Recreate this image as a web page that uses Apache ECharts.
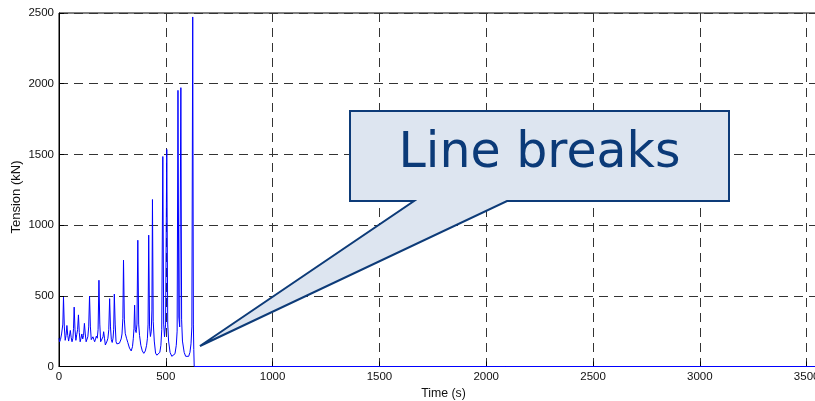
<!DOCTYPE html>
<html><head><meta charset="utf-8">
<script src="https://cdn.jsdelivr.net/npm/echarts@6/dist/echarts.min.js"></script>
<style>html,body{margin:0;padding:0;background:#fff}#c{width:815px;height:401px}</style>
</head><body><div id="c"></div>
<script>
// ---- data ----
const timeSec = [
  0,3,7,12,18,21,25,29,33,37,41,45,49,53,57,61,65,68,71,75,79,83,87,91,95,99,
  103,107,111,115,119,123,127,131,135,139,143,147,151,155,159,163,167,171,175,179,
  183,187,191,195,199,203,206,209,213,217,221,225,229,233,237,241,245,249,253,256,
  259,263,267,271,275,279,283,287,291,295,299,302,306,310,316,322,330,338,344,348,
  351,354,357,361,365,369,373,377,383,390,397,404,410,414,417,420,424,428,432,435,
  437.5,441,446,452,458,465,472,477,481,486,490,494,499,504.5,509,513,520,528,536,
  543,549,553,557,561,565,570.5,574,578,586,593,600,607,613,618,622,626,629,631,633,3600
];
const tensionKN = [
  200,175,190,230,300,490,280,185,220,290,220,180,215,255,205,175,200,270,420,260,185,225,260,365,240,175,
  200,230,195,220,305,230,175,185,210,280,498,280,190,200,210,190,175,195,215,200,
  260,610,300,175,185,180,210,246,200,152,160,180,200,260,480,280,190,170,200,260,
  512,300,175,160,150,155,165,180,195,230,340,752,330,235,200,170,130,110,140,200,
  270,434,260,240,300,893,300,220,150,110,93,110,150,200,300,929,280,212,250,400,
  1181,320,180,95,80,85,100,150,260,1485,300,210,300,1535,300,180,100,72,68,
  90,150,250,1953,350,280,1972,330,180,100,72,66,72,100,160,280,2472,300,120,0,0
];
const xTickValues = [0,500,1000,1500,2000,2500,3000,3500];
const yTickValues = [0,500,1000,1500,2000,2500];
const xAxisTitle = 'Time (s)';
const yAxisTitle = 'Tension (kN)';
const calloutText = 'Line breaks';
const calloutTarget = [660, 145]; // data point the callout points at

const seriesData = timeSec.map((t, i) => [t, tensionKN[i]]);

const chart = echarts.init(document.getElementById('c'), null, {renderer: 'canvas'});
const labelFont = 'Liberation Sans, Arial, Helvetica, sans-serif';
const gridDash = [9, 6];

chart.setOption({
  animation: false,
  backgroundColor: '#ffffff',
  grid: {
    left: 59, top: 13, width: 769, height: 353.5,
    show: true, borderColor: '#000', borderWidth: 1, backgroundColor: 'transparent',
    outerBoundsMode: 'none', containLabel: false
  },
  xAxis: {
    type: 'value', min: 0, max: 3600, interval: 500,
    name: xAxisTitle, nameLocation: 'middle', nameGap: 19,
    nameTextStyle: {fontFamily: labelFont, fontSize: 12.3, color: '#111'},
    axisLine: {show: true, onZero: false, lineStyle: {color: '#000', width: 1}},
    axisTick: {show: true, inside: true, length: 5, lineStyle: {color: '#000'}},
    axisLabel: {fontFamily: labelFont, fontSize: 11.5, color: '#111', margin: 4,
      formatter: v => xTickValues.indexOf(v) >= 0 ? String(v) : ''},
    splitLine: {show: true, lineStyle: {color: '#333', width: 1, type: gridDash}}
  },
  yAxis: {
    type: 'value', min: 0, max: 2500, interval: 500,
    axisLine: {show: true, lineStyle: {color: '#000', width: 1}},
    axisTick: {show: true, inside: true, length: 5, lineStyle: {color: '#000'}},
    axisLabel: {fontFamily: labelFont, fontSize: 11.5, color: '#111', margin: 5,
      formatter: v => yTickValues.indexOf(v) >= 0 ? String(v) : ''},
    splitLine: {show: true, lineStyle: {color: '#333', width: 1, type: gridDash}}
  },
  series: [{
    type: 'line', data: seriesData, showSymbol: false, symbol: 'none',
    clip: false, smooth: false,
    lineStyle: {color: '#0000ff', width: 1}, z: 5
  }]
});

const tip = chart.convertToPixel({gridIndex: 0}, calloutTarget);
const box = {l: 350, t: 111, r: 729, b: 201, pl: 414, pr: 507};
chart.setOption({
  graphic: [
    {
      type: 'text', rotation: Math.PI / 2, x: 16, y: 197,
      style: {text: yAxisTitle, fontFamily: labelFont, fontSize: 13, fill: '#111',
        textAlign: 'center', textVerticalAlign: 'middle'}
    },
    {
      type: 'polygon', z: 100,
      shape: {points: [[box.l, box.t], [box.r, box.t], [box.r, box.b], [box.pr, box.b],
        [tip[0], tip[1]], [box.pl, box.b], [box.l, box.b]]},
      style: {fill: '#dde5f0', stroke: '#0d3b78', lineWidth: 2, lineJoin: 'miter'}
    },
    {
      type: 'text', z: 101, x: (box.l + box.r) / 2, y: 154,
      style: {text: calloutText, fontFamily: 'DejaVu Sans', fontSize: 49, fill: '#0b3a78',
        textAlign: 'center', textVerticalAlign: 'middle'}
    }
  ]
});
</script></body></html>
